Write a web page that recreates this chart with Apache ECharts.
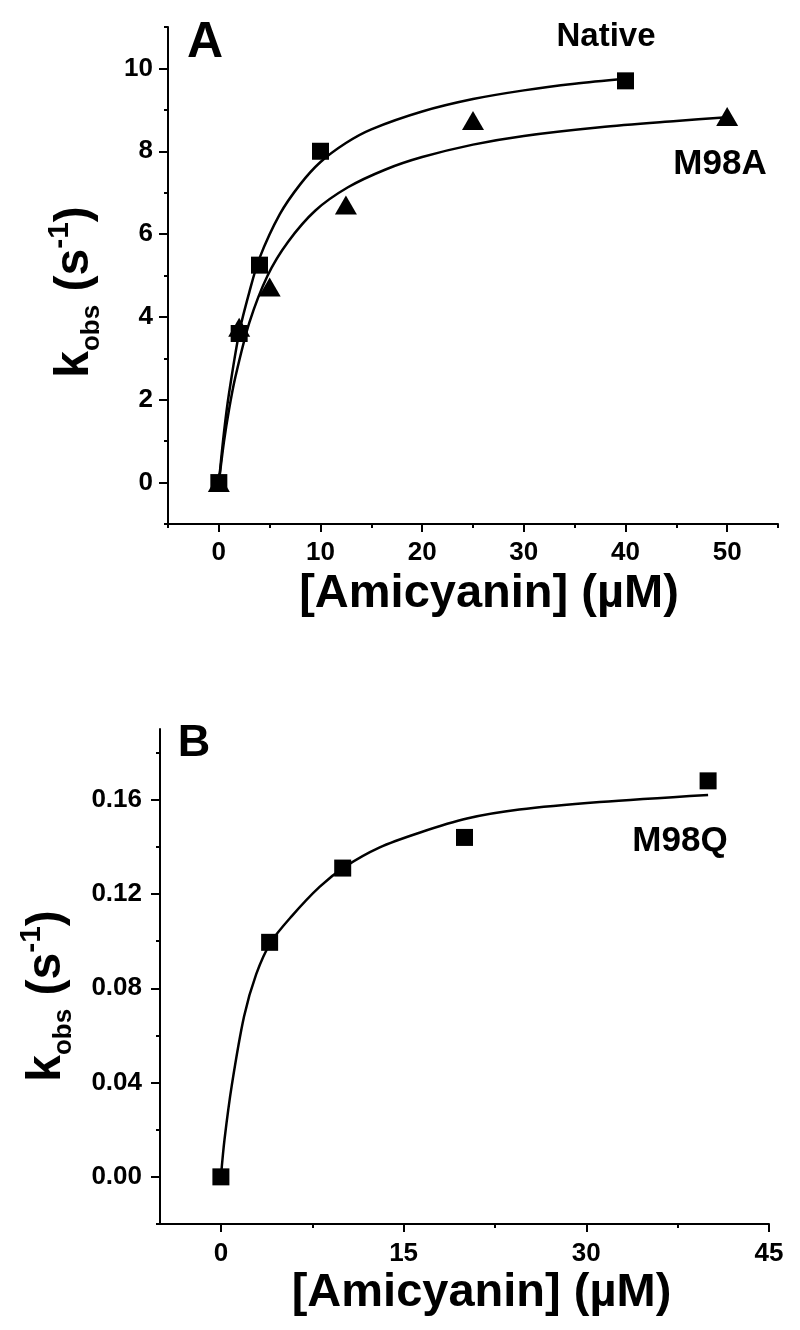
<!DOCTYPE html>
<html><head><meta charset="utf-8">
<script src="https://cdn.jsdelivr.net/npm/echarts@6/dist/echarts.min.js"></script>
<style>html,body{margin:0;padding:0;background:#fff}#c{width:800px;height:1330px}</style>
</head><body><div id="c"></div>
<script>
// ---- Panel A data ----
const nativeX = [0, 2, 4, 10, 40];
const nativeY = [0, 3.6, 5.25, 8.0, 9.7];
const m98aX = [0, 2, 5, 12.5, 25, 50];
const m98aY = [0, 3.75, 4.72, 6.7, 8.74, 8.84];
const nativeFitX = [0, 0.5, 1, 2, 3, 4, 6, 8, 10, 12.5, 15, 20, 25, 30, 35, 40];
const nativeFitY = [0, 1.2, 2.15, 3.62, 4.6, 5.42, 6.48, 7.2, 7.74, 8.2, 8.53, 8.96, 9.26, 9.47, 9.63, 9.75];
const m98aFitX = [0, 0.5, 1, 1.6, 3, 4.8, 6.8, 9.5, 12.7, 16.4, 20, 25, 30, 37.5, 45, 50];
const m98aFitY = [0, 0.98, 1.76, 2.52, 3.86, 5.0, 5.81, 6.57, 7.13, 7.56, 7.86, 8.16, 8.37, 8.58, 8.73, 8.82];
const aXTicks = [0, 10, 20, 30, 40, 50];
const aXMinor = [-5, 5, 15, 25, 35, 45, 55];
const aYTicks = [0, 2, 4, 6, 8, 10];
const aYMinor = [-1, 1, 3, 5, 7, 9, 11];
// ---- Panel B data ----
const m98qX = [0, 4, 10, 20, 40];
const m98qY = [0, 0.0995, 0.131, 0.144, 0.168];
const m98qFitX = [0, 0.3, 0.9, 1.9, 2.9, 4.1, 5.8, 8.1, 10.2, 13, 16.3, 20.2, 24.5, 31.1, 40];
const m98qFitY = [0, 0.016, 0.039, 0.068, 0.086, 0.0995, 0.1105, 0.123, 0.1316, 0.1397, 0.146, 0.152, 0.1558, 0.159, 0.162];
const bXTicks = [0, 15, 30, 45];
const bXMinor = [7.5, 22.5, 37.5];
const bYTicks = [0, 0.04, 0.08, 0.12, 0.16];
const bYMinor = [-0.02, 0.02, 0.06, 0.10, 0.14, 0.18];

const FF = '"Liberation Sans", Arial, Helvetica, sans-serif';
const pairs = (xs, ys) => xs.map((x, i) => [x, ys[i]]);

const lineStyle = { color: '#000', width: 2 };
function mainAxis(gridIndex, min, max, ticks, tickLen, labelMargin, fmt, extra) {
  return Object.assign({
    type: 'value', gridIndex, min, max,
    axisLine: { show: true, onZero: false, lineStyle },
    axisTick: { show: true, customValues: ticks, length: tickLen, lineStyle },
    axisLabel: { customValues: ticks, margin: labelMargin, color: '#000', fontFamily: FF,
      fontSize: 26, fontWeight: 'bold', formatter: fmt },
    splitLine: { show: false }
  }, extra);
}
function minorAxis(gridIndex, min, max, ticks, pos) {
  return {
    type: 'value', gridIndex, min, max, position: pos,
    axisLine: { show: false, onZero: false },
    axisTick: { show: true, customValues: ticks, length: 4, lineStyle },
    axisLabel: { show: false },
    splitLine: { show: false }
  };
}
const xTitle = '[Amicyanin] (µM)';
const yTitle = '{m|k}{s|obs}{m| (s}{p|-1}{m|)}';
const yRich = {
  m: { fontSize: 48, fontWeight: 'bold', fontFamily: FF, color: '#000', lineHeight: 60 },
  s: { fontSize: 26, fontWeight: 'bold', fontFamily: FF, color: '#000', verticalAlign: 'bottom', lineHeight: 8 },
  p: { fontSize: 30, fontWeight: 'bold', fontFamily: FF, color: '#000', verticalAlign: 'top', lineHeight: 16 }
};
const markStyle = { color: '#000', opacity: 1 };

const option = {
  animation: false,
  backgroundColor: '#fff',
  grid: [
    { left: 168, top: 27, width: 610, height: 497, outerBoundsMode: 'none' },
    { left: 160, top: 729, width: 609, height: 495, outerBoundsMode: 'none' }
  ],
  xAxis: [
    mainAxis(0, -5, 55, aXTicks, 8, 16, v => String(v), {
      position: 'bottom', name: xTitle, nameLocation: 'middle', nameGap: 45,
      nameTextStyle: { fontSize: 47, fontWeight: 'bold', fontFamily: FF, color: '#000', lineHeight: 50, padding: [0, 0, 0, 32] }
    }),
    minorAxis(0, -5, 55, aXMinor, 'bottom'),
    mainAxis(1, -5, 45, bXTicks, 8, 17, v => String(v), {
      position: 'bottom', name: xTitle, nameLocation: 'middle', nameGap: 42,
      nameTextStyle: { fontSize: 47, fontWeight: 'bold', fontFamily: FF, color: '#000', lineHeight: 50, padding: [0, 0, 0, 34] }
    }),
    minorAxis(1, -5, 45, bXMinor, 'bottom')
  ],
  yAxis: [
    mainAxis(0, -1, 11, aYTicks, 9, 15, v => String(v), {
      position: 'left', name: yTitle, nameLocation: 'middle', nameGap: 63, nameRotate: 90,
      nameTextStyle: { rich: yRich, padding: [0, 33, 0, 0] }
    }),
    minorAxis(0, -1, 11, aYMinor, 'left'),
    mainAxis(1, -0.02, 0.19, bYTicks, 9, 18, v => v.toFixed(2), {
      position: 'left', name: yTitle, nameLocation: 'middle', nameGap: 83, nameRotate: 90,
      nameTextStyle: { rich: yRich, padding: [0, 39, 0, 0] }
    }),
    minorAxis(1, -0.02, 0.19, bYMinor, 'left')
  ],
  series: [
    { type: 'line', xAxisIndex: 0, yAxisIndex: 0, data: pairs(nativeFitX, nativeFitY), smooth: 0.3,
      showSymbol: false, symbol: 'none', lineStyle: { color: '#000', width: 2.5, opacity: 1 }, z: 2 },
    { type: 'line', xAxisIndex: 0, yAxisIndex: 0, data: pairs(m98aFitX, m98aFitY), smooth: 0.3,
      showSymbol: false, symbol: 'none', lineStyle: { color: '#000', width: 2.5, opacity: 1 }, z: 2 },
    { type: 'scatter', xAxisIndex: 0, yAxisIndex: 0, data: pairs(nativeX, nativeY), symbol: 'rect',
      symbolSize: 17, itemStyle: markStyle, z: 3 },
    { type: 'scatter', xAxisIndex: 0, yAxisIndex: 0, data: pairs(m98aX, m98aY), symbol: 'triangle',
      symbolSize: [22, 19], itemStyle: markStyle, z: 3 },
    { type: 'line', xAxisIndex: 2, yAxisIndex: 2, data: pairs(m98qFitX, m98qFitY), smooth: 0.3,
      showSymbol: false, symbol: 'none', lineStyle: { color: '#000', width: 2.5, opacity: 1 }, z: 2 },
    { type: 'scatter', xAxisIndex: 2, yAxisIndex: 2, data: pairs(m98qX, m98qY), symbol: 'rect',
      symbolSize: 17, itemStyle: markStyle, z: 3 }
  ],
  graphic: [
    { type: 'text', x: 205, y: 43, style: { text: 'A', font: 'bold 50px ' + FF, fill: '#000', align: 'center', verticalAlign: 'middle' } },
    { type: 'text', x: 194, y: 744, style: { text: 'B', font: 'bold 45px ' + FF, fill: '#000', align: 'center', verticalAlign: 'middle' } },
    { type: 'text', x: 606, y: 37, style: { text: 'Native', font: 'bold 33px ' + FF, fill: '#000', align: 'center', verticalAlign: 'middle' } },
    { type: 'text', x: 720, y: 164, style: { text: 'M98A', font: 'bold 35px ' + FF, fill: '#000', align: 'center', verticalAlign: 'middle' } },
    { type: 'text', x: 680, y: 841, style: { text: 'M98Q', font: 'bold 35px ' + FF, fill: '#000', align: 'center', verticalAlign: 'middle' } }
  ]
};
const chart = echarts.init(document.getElementById('c'), null, { renderer: 'canvas' });
chart.setOption(option);
</script>
</body></html>
